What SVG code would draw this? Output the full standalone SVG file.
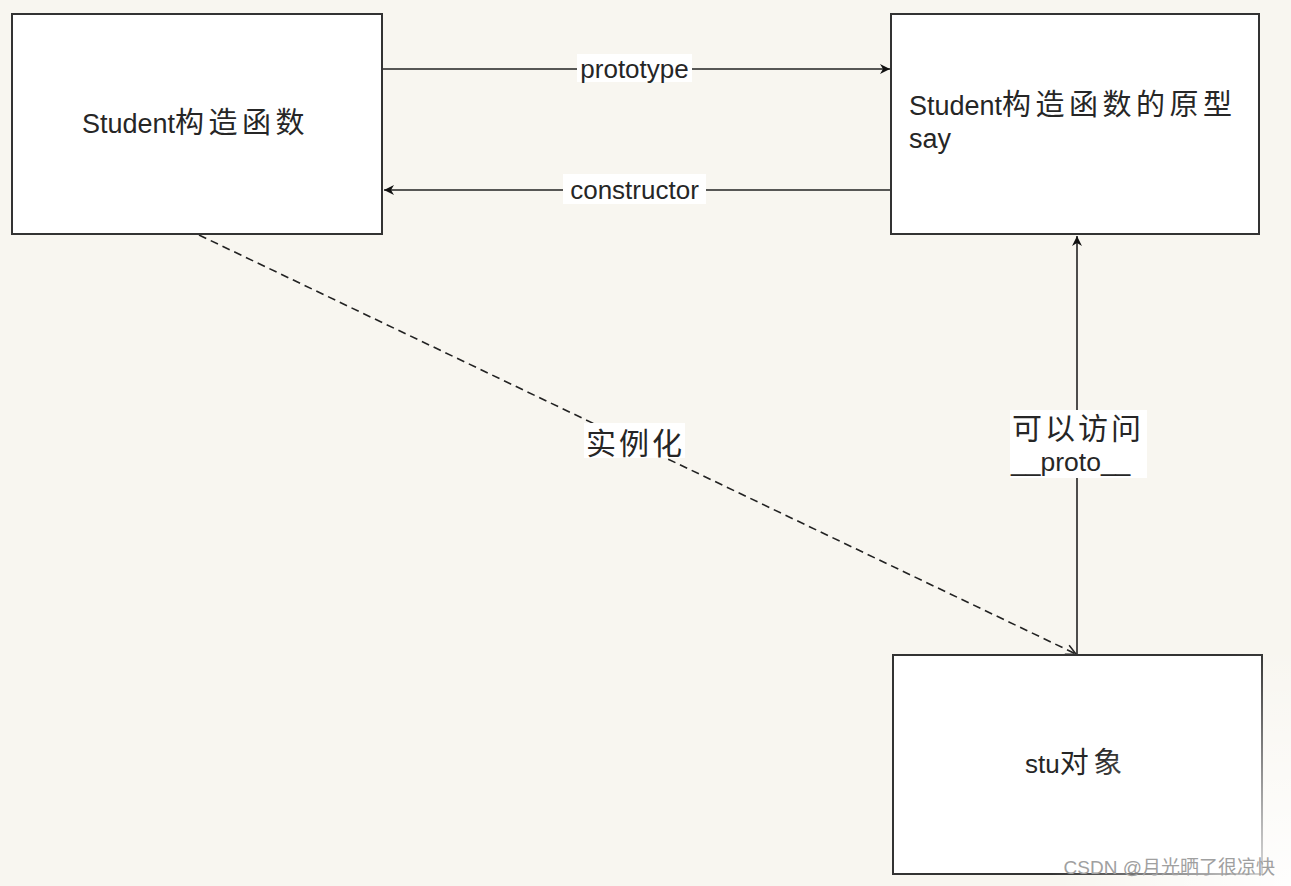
<svg xmlns="http://www.w3.org/2000/svg" width="1291" height="886" viewBox="0 0 1291 886">
<defs>
<style>
.box{fill:#ffffff;stroke:#333333;stroke-width:2}
.t{font-family:"Liberation Sans","Noto Sans CJK SC",sans-serif;fill:#262626}
.lat{font-size:27px}
.cjk{font-size:29px;letter-spacing:4.5px}
.lbl{fill:#ffffff}
.ln{stroke:#222222;stroke-width:1.6;fill:none}
</style>
<marker id="arr" viewBox="0 0 10 10" refX="10" refY="5" markerWidth="10" markerHeight="10" markerUnits="userSpaceOnUse" orient="auto">
<path d="M0,0 L10,5 L0,10 L3,5 Z" fill="#111111"/>
</marker>
<marker id="open" viewBox="0 0 12 12" refX="11" refY="6" markerWidth="12" markerHeight="12" markerUnits="userSpaceOnUse" orient="auto">
<path d="M1,1 L11,6 L1,11" fill="none" stroke="#222222" stroke-width="1.5"/>
</marker>
<radialGradient id="wm" cx="1291" cy="886" r="240" gradientUnits="userSpaceOnUse">
<stop offset="0" stop-color="#ffffff" stop-opacity="0.9"/>
<stop offset="1" stop-color="#ffffff" stop-opacity="0"/>
</radialGradient>
</defs>
<rect width="1291" height="886" fill="#f8f6f0"/>
<g id="connectors">
<line class="ln" x1="383" y1="69" x2="890" y2="69" marker-end="url(#arr)"/>
<line class="ln" x1="891" y1="190" x2="384" y2="190" marker-end="url(#arr)"/>
<line class="ln" x1="199" y1="235" x2="1076" y2="654" stroke-dasharray="8,5" marker-end="url(#open)"/>
<line class="ln" x1="1077" y1="655" x2="1077" y2="236" marker-end="url(#arr)"/>
<rect class="lbl" x="577" y="54" width="115" height="28"/>
<text class="t" x="634.5" y="78" font-size="26" text-anchor="middle">prototype</text>
<rect class="lbl" x="563" y="174" width="143" height="30"/>
<text class="t" x="634.5" y="199" font-size="26" text-anchor="middle">constructor</text>
<rect class="lbl" x="584" y="423" width="101" height="35"/>
<text class="t cjk" x="586" y="454" style="font-size:30px;letter-spacing:3px">实例化</text>
<rect class="lbl" x="1010" y="410" width="137" height="68"/>
<text class="t cjk" x="1012" y="439" style="font-size:30px;letter-spacing:3px">可以访问</text>
<text class="t" x="1011" y="471" font-size="26.5">__proto__</text>
</g>
<g id="student">
<rect class="box" x="12" y="14" width="370" height="220"/>
<text class="t" x="82" y="133"><tspan class="lat">Student</tspan><tspan class="cjk">构造函数</tspan></text>
</g>
<g id="prototype">
<rect class="box" x="891" y="14" width="368" height="220"/>
<text class="t" x="909" y="115"><tspan class="lat">Student</tspan><tspan class="cjk">构造函数的原型</tspan></text>
<text class="t lat" x="909" y="148">say</text>
</g>
<g id="stu">
<rect class="box" x="893" y="655" width="369" height="219"/>
<text class="t" x="1025" y="773"><tspan class="lat" style="font-size:26px">stu</tspan><tspan class="cjk">对象</tspan></text>
</g>
<rect width="1291" height="886" fill="url(#wm)"/>
<text class="t" x="1275" y="874" font-size="19" text-anchor="end" style="fill:#a0a0a0">CSDN @月光晒了很凉快</text>
</svg>
